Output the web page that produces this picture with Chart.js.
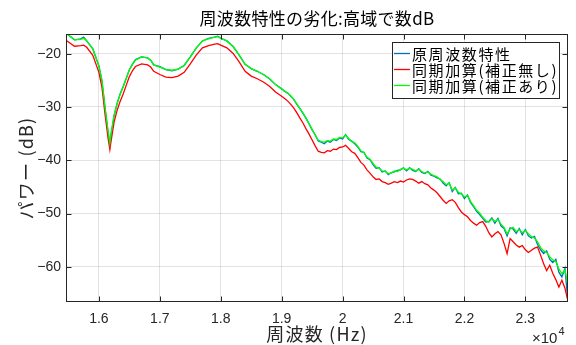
<!DOCTYPE html>
<html>
<head>
<meta charset="utf-8">
<script src="https://cdn.jsdelivr.net/npm/chart.js@4"></script>
<style>
  html, body { margin: 0; padding: 0; background: #fff; }
  canvas { display: block; }
</style>
</head>
<body>
<canvas id="chart" width="576" height="345"></canvas>
<script>
// frequency axis (Hz)
const freq = [
  15460, 15500, 15600, 15700, 15750, 15800, 15900, 16000, 16050, 16100,
  16150, 16180, 16200, 16250, 16300, 16350, 16400, 16450, 16500, 16550,
  16600, 16700, 16800, 16850, 16900, 17000, 17100, 17200, 17300, 17400,
  17500, 17600, 17700, 17800, 17900, 17950, 18000, 18100, 18200, 18300,
  18400, 18500, 18600, 18700, 18800, 18900,
  19000, 19050, 19100, 19150, 19200, 19250, 19300, 19350, 19400, 19450,
  19500, 19550, 19600, 19650, 19700, 19750, 19800, 19850, 19900, 19950,
  20000, 20050, 20100, 20150, 20200, 20250, 20300, 20350, 20400, 20450,
  20500, 20550, 20600, 20650, 20700, 20750, 20800, 20850, 20900, 20950,
  21000, 21050, 21100, 21150, 21200, 21250, 21300, 21350, 21400, 21450,
  21500, 21550, 21600, 21650, 21700, 21750, 21800, 21850, 21900, 21950,
  22000, 22050, 22100, 22150, 22200, 22250, 22300, 22350, 22400, 22450,
  22500, 22550, 22600, 22650, 22700, 22750, 22800, 22850, 22900, 22950,
  23000, 23050, 23100, 23150, 23200, 23250, 23300, 23350, 23400, 23450,
  23500, 23550, 23600, 23650, 23700
];

// 原周波数特性
const original = [
  -16.2, -16.5, -17.4, -17.2, -16.9, -17.6, -19.1, -22.3, -25.1, -30.1,
  -34.7, -37.1, -35.2, -31.6, -29.3, -27.5, -26.1, -24.6, -23.0, -22.0,
  -21.1, -20.6, -20.8, -21.2, -22.1, -22.4, -23.0, -23.2, -22.9, -22.2,
  -20.6, -18.9, -17.6, -17.1, -16.9, -16.7, -17.1, -17.6, -18.6, -20.2,
  -22.0, -22.8, -23.3, -23.9, -24.7, -25.8,
  -26.6, -27.1, -27.4, -28.0, -28.6, -29.5, -30.3, -31.2, -32.1, -33.2,
  -34.3, -35.2, -36.4, -36.6, -36.9, -36.4, -36.6, -36.1, -36.3, -35.8,
  -36.0, -35.2, -36.1, -36.4, -36.9, -37.5, -38.4, -38.5, -39.6, -39.9,
  -40.8, -41.5, -41.4, -42.2, -42.0, -42.7, -42.3, -42.2, -41.9, -41.8,
  -41.4, -42.0, -41.4, -41.9, -42.1, -41.6, -42.3, -42.5, -42.1, -42.8,
  -43.0, -43.3, -43.5, -44.3, -44.8, -44.2, -45.9, -45.1, -46.3, -46.2,
  -47.2, -46.5, -47.9, -48.7, -49.6, -50.2, -50.9, -51.6, -51.5, -50.8,
  -51.8, -50.9, -52.3, -52.8, -54.2, -52.7, -52.9, -53.7, -52.8, -54.0,
  -53.0, -54.2, -54.6, -54.3, -55.8, -56.8, -57.5, -57.0, -58.6, -59.2,
  -58.6, -61.0, -61.9, -60.3, -66.6
];

// 同期加算(補正無し)
const uncorrected = [
  -17.5, -17.8, -18.6, -18.5, -18.4, -18.8, -20.3, -23.5, -26.3, -31.3,
  -35.8, -38.0, -36.4, -32.8, -30.6, -28.9, -27.5, -25.9, -24.3, -23.2,
  -22.4, -21.9, -22.1, -22.5, -23.3, -23.9, -24.4, -24.5, -24.2, -23.5,
  -21.9, -20.2, -18.9, -18.5, -18.2, -18.1, -18.4, -18.9, -19.9, -21.5,
  -23.3, -24.2, -24.7, -25.3, -26.1, -27.2,
  -28.0, -28.4, -28.9, -29.5, -30.2, -31.1, -32.1, -33.0, -34.1, -35.1,
  -36.2, -37.3, -38.3, -38.5, -38.6, -38.2, -38.3, -37.9, -38.0, -37.6,
  -37.5, -37.2, -37.8, -38.4, -38.7, -39.5, -40.4, -40.9, -41.8, -42.4,
  -43.1, -43.6, -43.5, -44.0, -44.2, -44.5, -44.3, -44.0, -44.2, -43.9,
  -44.1, -43.7, -43.5, -43.6, -43.9, -44.3, -44.0, -44.4, -44.6, -45.2,
  -45.6, -46.1, -46.8, -47.5, -48.1, -47.6, -47.4, -47.9, -48.9, -49.7,
  -50.2, -50.6, -51.3, -51.8, -52.2, -51.7, -51.5, -52.4, -53.6, -54.4,
  -53.8, -53.4, -54.0, -55.6, -57.5, -54.7, -55.3, -55.9, -56.3, -56.0,
  -56.8, -57.3, -56.9, -56.5, -56.3, -57.8, -59.4, -60.7, -59.7, -61.2,
  -62.4, -63.8, -62.5, -64.0, -66.5
];

// 同期加算(補正あり)
const corrected = [
  -16.2, -16.5, -17.4, -17.3, -17.1, -17.6, -19.1, -22.3, -25.0, -30.0,
  -34.5, -36.8, -35.0, -31.5, -29.3, -27.6, -26.2, -24.6, -23.0, -22.0,
  -21.2, -20.6, -20.8, -21.2, -22.1, -22.5, -23.0, -23.1, -22.9, -22.2,
  -20.6, -18.9, -17.6, -17.2, -16.9, -16.8, -17.1, -17.6, -18.6, -20.2,
  -22.0, -22.8, -23.3, -23.9, -24.7, -25.8,
  -26.6, -27.0, -27.4, -27.9, -28.6, -29.4, -30.3, -31.1, -32.2, -33.1,
  -34.2, -35.3, -36.2, -36.5, -36.6, -36.3, -36.4, -36.0, -36.1, -35.7,
  -35.8, -35.3, -35.9, -36.5, -36.7, -37.4, -38.2, -38.6, -39.4, -39.8,
  -40.6, -41.3, -41.5, -42.0, -42.1, -42.5, -42.4, -42.0, -42.1, -41.7,
  -41.5, -41.8, -41.5, -41.7, -42.0, -41.7, -42.1, -42.4, -42.2, -42.6,
  -42.9, -43.1, -43.6, -44.0, -44.6, -44.3, -45.6, -45.2, -46.0, -46.3,
  -46.9, -46.6, -47.7, -48.5, -49.4, -49.9, -50.7, -51.3, -51.6, -51.0,
  -51.5, -51.1, -52.0, -52.6, -53.8, -52.9, -52.6, -53.4, -53.0, -53.6,
  -53.2, -53.8, -54.3, -54.6, -55.3, -56.4, -57.0, -57.3, -58.1, -58.7,
  -59.0, -60.4, -61.3, -60.6, -63.5
];

const xTicks = [16000, 17000, 18000, 19000, 20000, 21000, 22000, 23000];
const yTicks = [-60, -50, -40, -30, -20];

const seriesNames = ['原周波数特性', '同期加算(補正無し)', '同期加算(補正あり)'];
const seriesColors = ['#0072BD', '#FF0000', '#00FF00'];

const toPoints = vals => freq.map((f, i) => ({ x: f, y: vals[i] }));

const axisColor = '#262626';
const jpFont = '"Noto Sans CJK JP", "Noto Sans", sans-serif';

// box, inward ticks, texts and the legend, MATLAB style
const framePlugin = {
  id: 'frame',
  afterDraw(chart) {
    const { ctx, chartArea: a, scales: { x, y } } = chart;
    const L = Math.round(a.left) + 0.5, R = Math.round(a.right) - 0.5;
    const T = Math.round(a.top) + 0.5, B = Math.round(a.bottom) - 0.5;
    ctx.save();
    ctx.strokeStyle = axisColor;
    ctx.lineWidth = 1;
    ctx.strokeRect(L, T, R - L, B - T);
    ctx.beginPath();
    xTicks.forEach(v => {
      const px = Math.round(x.getPixelForValue(v)) + 0.5;
      ctx.moveTo(px, B); ctx.lineTo(px, B - 5);
      ctx.moveTo(px, T); ctx.lineTo(px, T + 5);
    });
    yTicks.forEach(v => {
      const py = Math.round(y.getPixelForValue(v)) + 0.5;
      ctx.moveTo(L, py); ctx.lineTo(L + 5, py);
      ctx.moveTo(R, py); ctx.lineTo(R - 5, py);
    });
    ctx.stroke();

    const cx = (a.left + a.right) / 2;
    const cy = (a.top + a.bottom) / 2;

    ctx.fillStyle = '#000';
    ctx.textAlign = 'center';
    ctx.textBaseline = 'middle';
    ctx.font = '17px ' + jpFont;
    ctx.letterSpacing = '0.3px';
    ctx.fillText('周波数特性の劣化:高域で数dB', cx, 19);

    ctx.fillStyle = axisColor;
    ctx.font = '18px ' + jpFont;
    ctx.letterSpacing = '1.2px';
    ctx.fillText('周波数 (Hz)', cx, 334);

    ctx.save();
    ctx.translate(26, cy);
    ctx.rotate(-Math.PI / 2);
    ctx.fillText('パワー (dB)', 0, 0);
    ctx.restore();
    ctx.letterSpacing = '0px';

    // x10^4 exponent
    ctx.textAlign = 'left';
    ctx.textBaseline = 'alphabetic';
    ctx.font = '15px "Liberation Sans", Arial, sans-serif';
    ctx.fillText('\u00d710', 532, 343);
    const w = ctx.measureText('\u00d710').width;
    ctx.font = '11px "Liberation Sans", Arial, sans-serif';
    ctx.fillText('4', 532 + w + 1, 335);

    // legend
    const lx = 392.5, ly = 42.5, lw = 167, lh = 56;
    ctx.fillStyle = '#fff';
    ctx.fillRect(lx, ly, lw, lh);
    ctx.strokeStyle = axisColor;
    ctx.strokeRect(lx, ly, lw, lh);
    ctx.font = '15px ' + jpFont;
    ctx.letterSpacing = '1.6px';
    ctx.textBaseline = 'middle';
    const rows = [53.5, 69.5, 85.5];
    seriesNames.forEach((name, i) => {
      ctx.strokeStyle = seriesColors[i];
      ctx.lineWidth = 1.3;
      ctx.beginPath();
      ctx.moveTo(394, rows[i]);
      ctx.lineTo(410, rows[i]);
      ctx.stroke();
      ctx.fillStyle = '#000';
      ctx.fillText(name, 412, rows[i] + 1);
    });
    ctx.restore();
  }
};

new Chart(document.getElementById('chart'), {
  type: 'line',
  data: {
    datasets: [
      { label: seriesNames[0], data: toPoints(original), borderColor: seriesColors[0], order: 3 },
      { label: seriesNames[1], data: toPoints(uncorrected), borderColor: seriesColors[1], order: 2 },
      { label: seriesNames[2], data: toPoints(corrected), borderColor: seriesColors[2], order: 1 }
    ]
  },
  options: {
    responsive: false,
    animation: false,
    devicePixelRatio: 1,
    elements: {
      point: { radius: 0 },
      line: { borderWidth: 1.3, tension: 0, fill: false }
    },
    layout: { padding: { top: 34, right: 8, left: 0, bottom: 0 } },
    plugins: {
      legend: { display: false },
      title: { display: false },
      tooltip: { enabled: false }
    },
    scales: {
      x: {
        type: 'linear',
        min: 15460,
        max: 23700,
        afterBuildTicks: s => { s.ticks = xTicks.map(v => ({ value: v })); },
        afterFit: s => { s.height = 43; },
        grid: { color: 'rgba(0,0,0,0.11)', drawTicks: false },
        border: { display: false },
        ticks: {
          autoSkip: false,
          maxRotation: 0,
          padding: 9,
          color: axisColor,
          font: { family: '"Liberation Sans", Arial, sans-serif', size: 14 },
          callback: v => String(v / 10000)
        }
      },
      y: {
        min: -66.6,
        max: -16.3,
        afterBuildTicks: s => { s.ticks = yTicks.map(v => ({ value: v })); },
        afterFit: s => { s.width = 66; },
        grid: { color: 'rgba(0,0,0,0.11)', drawTicks: false },
        border: { display: false },
        ticks: {
          padding: 5,
          color: axisColor,
          font: { family: '"Liberation Sans", Arial, sans-serif', size: 14 },
          callback: v => (v < 0 ? '\u2212' + Math.abs(v) : String(v))
        }
      }
    }
  },
  plugins: [framePlugin]
});
</script>
</body>
</html>
